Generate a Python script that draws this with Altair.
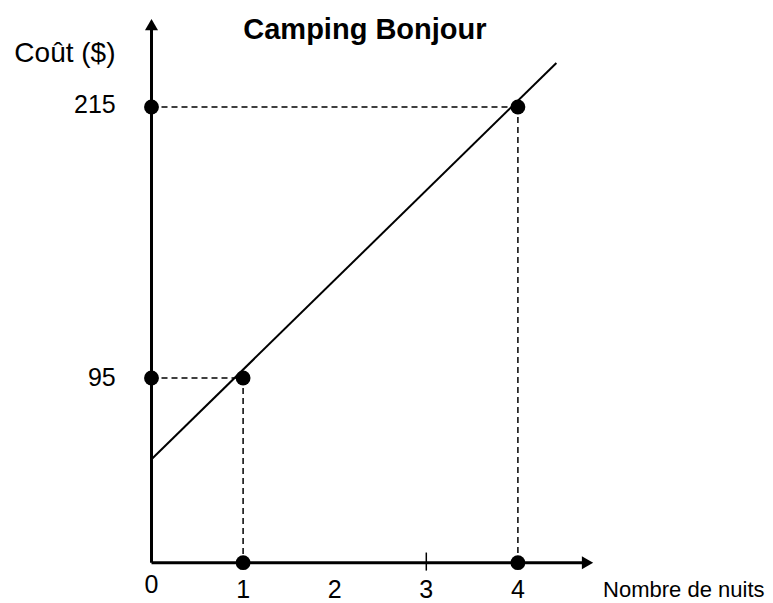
import altair as alt
import pandas as pd

# ---- data ----
title_text = "Camping Bonjour"
y_title = "Coût ($)"
x_title = "Nombre de nuits"

nights = [1, 4]          # marked points
cost = [95, 215]

x_floor = 13.2           # cost level at which the horizontal axis is drawn
y_top = 250              # top end of the vertical axis line
x_right = 4.7            # right end of the horizontal axis line
arrow_up = [0, 251.5]    # arrowhead of the vertical axis (x, cost)
arrow_right = [4.76, x_floor]

line_x = [0, 4.42]       # drawn cost line (start / end)
line_y = [59, 234.5]

tick_text = ["0", "1", "2", "3", "4"]
tick_pos = [0, 1, 2, 3, 4]
tick_label_y = [3.3, 0.9, 0.9, 1.2, 0.9]
marked_tick = 3

FONT = "Liberation Sans"
xs = alt.Scale(domain=[-1.5666, 6.6976], nice=False, zero=False)
ys = alt.Scale(domain=[-4.65, 258.86], nice=False, zero=False)


def enc(**kw):
    out = {}
    for ch, field in kw.items():
        if ch == "x":
            out[ch] = alt.X(field, type="quantitative", scale=xs, axis=None)
        elif ch == "x2":
            out[ch] = alt.X2(field)
        elif ch == "y":
            out[ch] = alt.Y(field, type="quantitative", scale=ys, axis=None)
        elif ch == "y2":
            out[ch] = alt.Y2(field)
        else:
            out[ch] = field
    return out


axes_df = pd.DataFrame({
    "x": [0, 0], "y": [x_floor, x_floor],
    "x2": [0, x_right], "y2": [y_top, x_floor],
})
axes = alt.Chart(axes_df).mark_rule(color="black", strokeWidth=3).encode(
    **enc(x="x", y="y", x2="x2", y2="y2"))

dash_df = pd.DataFrame({
    "x": [0, 0, nights[0], nights[1]],
    "y": [cost[0], cost[1], cost[0], cost[1]],
    "x2": [nights[0], nights[1], nights[0], nights[1]],
    "y2": [cost[0], cost[1], x_floor, x_floor],
})
dashes = alt.Chart(dash_df).mark_rule(color="black", strokeWidth=1.5, strokeDash=[6, 4]).encode(
    **enc(x="x", y="y", x2="x2", y2="y2"))

tick_df = pd.DataFrame({"x": [marked_tick], "y": [x_floor - 3.5], "y2": [x_floor + 4.5]})
tick = alt.Chart(tick_df).mark_rule(color="black", strokeWidth=1.5).encode(
    **enc(x="x", y="y", y2="y2"))

line_df = pd.DataFrame({"x": line_x, "y": line_y})
line = alt.Chart(line_df).mark_line(color="black", strokeWidth=2).encode(**enc(x="x", y="y"))

dots_df = pd.DataFrame({
    "x": nights + [0, 0] + nights,
    "y": cost + cost + [x_floor, x_floor],
})
dots = alt.Chart(dots_df).mark_point(filled=True, color="black", opacity=1, size=220, shape="circle").encode(
    **enc(x="x", y="y"))

up_df = pd.DataFrame({"x": [arrow_up[0]], "y": [arrow_up[1]]})
up = alt.Chart(up_df).mark_point(filled=True, color="black", opacity=1, size=170, shape="triangle-up").encode(
    **enc(x="x", y="y"))
right_df = pd.DataFrame({"x": [arrow_right[0]], "y": [arrow_right[1]]})
right = alt.Chart(right_df).mark_point(filled=True, color="black", opacity=1, size=170, shape="triangle-right").encode(
    **enc(x="x", y="y"))

title_df = pd.DataFrame({"x": [2.33], "y": [245.3], "t": [title_text]})
title = alt.Chart(title_df).mark_text(font=FONT, fontSize=29, fontWeight="bold", align="center",
                                      baseline="alphabetic", color="black").encode(
    **enc(x="x", y="y"), text="t:N")

ytitle_df = pd.DataFrame({"x": [-0.945], "y": [235.0], "t": [y_title]})
ytitle = alt.Chart(ytitle_df).mark_text(font=FONT, fontSize=28, align="center",
                                        baseline="alphabetic", color="black").encode(
    **enc(x="x", y="y"), text="t:N")

ylab_df = pd.DataFrame({"x": [-0.39, -0.39], "y": [cost[0], cost[1] + 0.8], "t": [str(c) for c in cost]})
ylab = alt.Chart(ylab_df).mark_text(font=FONT, fontSize=25, align="right",
                                    baseline="middle", color="black").encode(
    **enc(x="x", y="y"), text="t:N")

xlab_df = pd.DataFrame({"x": tick_pos, "y": tick_label_y, "t": tick_text})
xlab = alt.Chart(xlab_df).mark_text(font=FONT, fontSize=25, align="center",
                                    baseline="middle", color="black").encode(
    **enc(x="x", y="y"), text="t:N")

xtitle_df = pd.DataFrame({"x": [4.93], "y": [-1.8], "t": [x_title]})
xtitle = alt.Chart(xtitle_df).mark_text(font=FONT, fontSize=22, align="left",
                                        baseline="alphabetic", color="black").encode(
    **enc(x="x", y="y"), text="t:N")

chart = alt.layer(
    dashes, line, axes, tick, up, right, dots, title, ytitle, ylab, xlab, xtitle
).properties(
    width=757, height=595, padding=0,
    autosize=alt.AutoSizeParams(type="none"),
    background="white",
).configure_view(stroke=None)

chart.save("out.html", embed_options={"renderer": "svg", "actions": False})
